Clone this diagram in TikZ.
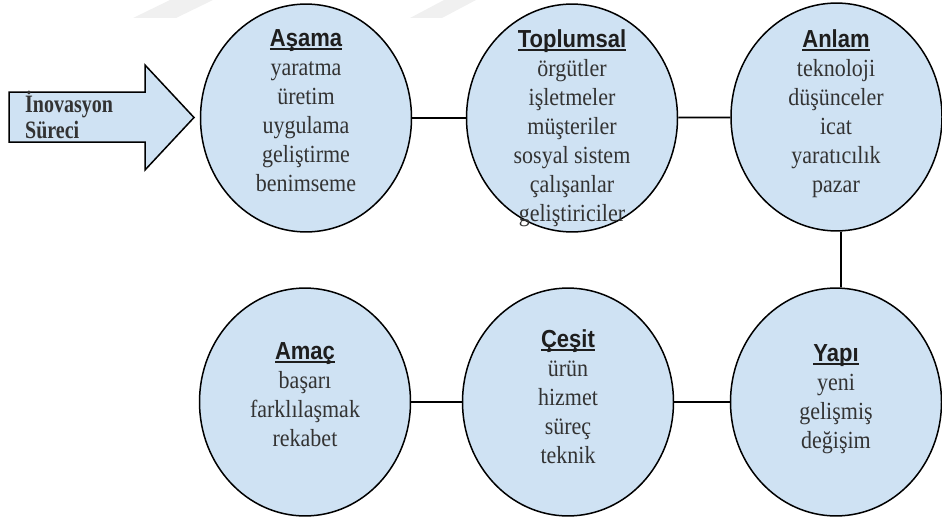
\documentclass[tikz,border=0pt]{standalone}
\usepackage{fontspec}
\setmainfont{Liberation Serif}
\newfontfamily\hdrfont{Liberation Sans}
\usetikzlibrary{calc}

\definecolor{bubble}{HTML}{CFE2F3}
\definecolor{ink}{HTML}{333333}
\definecolor{headink}{HTML}{1E1E1E}
\definecolor{faintgray}{HTML}{F0F0F0}

% bold sans heading with a heavy underline
\newcommand\hd[1]{\sbox0{\hdrfont\bfseries\color{headink}#1}\usebox0\hspace{-\wd0}{\color{headink}\rule[-3.6pt]{\wd0}{1.6pt}}}

\tikzset{
  bubble/.style={circle, draw=black, line width=1.5pt, fill=bubble,
    minimum size=211pt, inner sep=0pt, yscale=1.08, transform shape},
  bubbletext/.style={anchor=north, align=center, inner sep=0pt, text=ink,
    font=\rmfamily\fontsize{22}{26}\selectfont, yscale=1.12, transform shape},
  link/.style={draw=black, line width=1.8pt},
  bigarrow/.style={draw=black, line width=1.5pt, fill=bubble, line join=miter},
  arrowtext/.style={anchor=base west, align=left, inner sep=0pt, text=ink,
    font=\rmfamily\fontsize{20}{20.8}\selectfont\bfseries, yscale=1.25, transform shape},
}

\begin{document}
\begin{tikzpicture}[x=1pt, y=-1pt]
  \useasboundingbox (0,0) rectangle (942,519);

  % faint slanted marks along the top edge
  \fill[faintgray] (133,18) -- (176,18) -- (213,0) -- (170,0) -- cycle;
  \fill[faintgray] (410,18) -- (442,18) -- (476,0) -- (444,0) -- cycle;

  % entry arrow
  \filldraw[bigarrow] (9,92) -- (145,92) -- (145,65) -- (194,117.5)
    -- (145,170) -- (145,142) -- (9,142) -- cycle;
  \node[arrowtext] (entry) at (25,138) {İnovasyon\\Süreci};

  % circles
  \node[bubble] (asama) at (306,118) {};
  \node[bubble] (toplum) at (572,118) {};
  \node[bubble] (anlam) at (836.5,117) {};
  \node[bubble] (amac) at (305,402) {};
  \node[bubble] (cesit) at (568,402) {};
  \node[bubble] (yapi) at (836,402) {};

  % connectors
  \coordinate (vx) at (841,0);
  \draw[link] (asama) -- (toplum);
  \draw[link] (toplum) -- (anlam);
  \draw[link] (anlam.south -| vx) -- (yapi.north -| vx);
  \draw[link] (yapi) -- (cesit);
  \draw[link] (cesit) -- (amac);

  % circle contents
  \node[bubbletext] (asamat) at (306,29)
    {\hd{Aşama}\\yaratma\\üretim\\uygulama\\geliştirme\\benimseme};
  \node[bubbletext] (toplumt) at (572,29)
    {\hd{Toplumsal}\\örgütler\\işletmeler\\müşteriler\\sosyal sistem\\çalışanlar\\geliştiriciler};
  \node[bubbletext] (anlamt) at (836,29)
    {\hd{Anlam}\\teknoloji\\düşünceler\\icat\\yaratıcılık\\pazar};
  \node[bubbletext] (amact) at (305,342)
    {\hd{Amaç}\\başarı\\farklılaşmak\\rekabet};
  \node[bubbletext] (cesitt) at (568,329)
    {\hd{Çeşit}\\ürün\\hizmet\\süreç\\teknik};
  \node[bubbletext] (yapit) at (836,344)
    {\hd{Yapı}\\yeni\\gelişmiş\\değişim};
\end{tikzpicture}
\end{document}
